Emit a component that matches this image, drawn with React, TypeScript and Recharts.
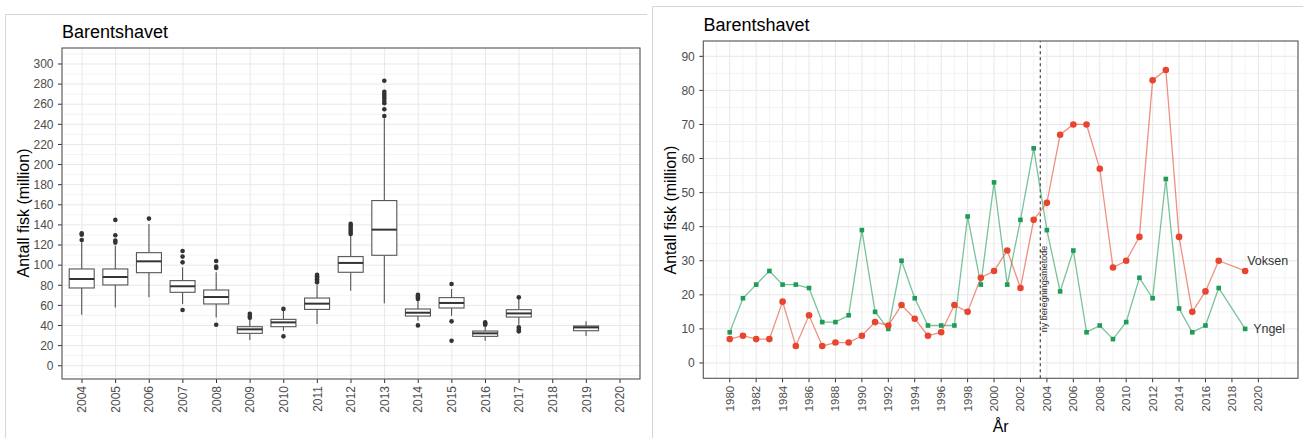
import React from "react";
import {
  ComposedChart, Bar, LineChart, Line, XAxis, YAxis, CartesianGrid, ReferenceLine, LabelList,
} from "recharts";

// left panel: boxplots per year
const boxYears = ["2004", "2005", "2006", "2007", "2008", "2009", "2010", "2011", "2012", "2013", "2014", "2015", "2016", "2017", "2018", "2019", "2020"];
const whiskerLow = [50.7, 58, 68, 61.4, 48, 25.5, 34.8, 41.5, 74.6, 62, 44.8, 49.8, 24.9, 40.8, null, 29.5, null];
const quart1 = [77.3, 80.3, 92.5, 73, 61.4, 32.2, 38.8, 56, 92.9, 109.8, 49.4, 57.4, 29.2, 48.4, null, 34.8, null];
const medians = [86.2, 88.2, 103.8, 79, 68.3, 36.2, 43.1, 61.7, 102.2, 135.3, 52.7, 62.4, 32.2, 52, null, 38.1, null];
const quart3 = [96.2, 96.2, 112.4, 84.6, 75.3, 38.8, 46.1, 67.3, 108.5, 164.2, 56.4, 67.7, 34.5, 55.7, null, 39.5, null];
const whiskerHigh = [122.7, 119.4, 141, 97.8, 92.9, 46.5, 55, 80, 129.4, 246, 64.7, 76.3, 38.8, 66, null, 44.1, null];
const outliers = [
  [125, 130.3, 131.7],
  [122.4, 124.4, 129.7, 145],
  [146.3],
  [55.4, 102.8, 108.5, 114],
  [40.8, 97.2, 98.5, 104.1],
  [47.8, 49.5, 51.7],
  [29.2, 56.5],
  [82.9, 84.5, 86, 87.5, 89, 90.5],
  [131, 133, 135, 137, 139, 141],
  [248.3, 255, 260.9, 263.2, 265.9, 268.2, 270.2, 272.4, 283.4],
  [40.1, 66.3, 68, 69.3, 70.6],
  [24.9, 44.1, 81.3],
  [40.8, 42, 43.1],
  [34.2, 36, 38.1, 68],
  [],
  [],
  [],
];
const leftYTicks = [0, 20, 40, 60, 80, 100, 120, 140, 160, 180, 200, 220, 240, 260, 280, 300];
const leftYMinor = [-10, 10, 30, 50, 70, 90, 110, 130, 150, 170, 190, 210, 230, 250, 270, 290, 310];

// right panel: time series
const years = [1980, 1981, 1982, 1983, 1984, 1985, 1986, 1987, 1988, 1989, 1990, 1991, 1992, 1993, 1994, 1995, 1996, 1997, 1998, 1999, 2000, 2001, 2002, 2003, 2004, 2005, 2006, 2007, 2008, 2009, 2010, 2011, 2012, 2013, 2014, 2015, 2016, 2017, 2018, 2019];
const voksen = [7, 8, 7, 7, 18, 5, 14, 5, 6, 6, 8, 12, 11, 17, 13, 8, 9, 17, 15, 25, 27, 33, 22, 42, 47, 67, 70, 70, 57, 28, 30, 37, 83, 86, 37, 15, 21, 30, null, 27];
const yngel = [9, 19, 23, 27, 23, 23, 22, 12, 12, 14, 39, 15, 10, 30, 19, 11, 11, 11, 43, 23, 53, 23, 42, 63, 39, 21, 33, 9, 11, 7, 12, 25, 19, 54, 16, 9, 11, 22, null, 10];
const rightXTicks = [1980, 1982, 1984, 1986, 1988, 1990, 1992, 1994, 1996, 1998, 2000, 2002, 2004, 2006, 2008, 2010, 2012, 2014, 2016, 2018, 2020];
const rightXMinor = [1978, 1979, 1981, 1983, 1985, 1987, 1989, 1991, 1993, 1995, 1997, 1999, 2001, 2003, 2005, 2007, 2009, 2011, 2013, 2015, 2017, 2019, 2021, 2022];
const rightYTicks = [0, 10, 20, 30, 40, 50, 60, 70, 80, 90];
const rightYMinor = [5, 15, 25, 35, 45, 55, 65, 75, 85];

const FONT = "'Liberation Sans', Arial, sans-serif";
const RED = "#e8452f";
const GREEN = "#1e9b57";

const boxData = boxYears.map((year, i) => ({
  year,
  range: whiskerLow[i] == null ? null : [whiskerLow[i], whiskerHigh[i]],
  lo: whiskerLow[i], q1: quart1[i], med: medians[i], q3: quart3[i], hi: whiskerHigh[i], out: outliers[i],
}));

const lineData = years.map((year, i) => ({ year, voksen: voksen[i], yngel: yngel[i] }));

function BoxShape(props: any) {
  const { x, y, width, height, payload } = props;
  if (!payload || payload.lo == null) return <g />;
  const top = Math.min(y, y + height);
  const h = Math.abs(height);
  const py = (v: number) => top + ((payload.hi - v) * h) / (payload.hi - payload.lo);
  const cx = x + width / 2;
  const line = "#555";
  return (
    <g>
      <line x1={cx} x2={cx} y1={py(payload.hi)} y2={py(payload.q3)} stroke={line} strokeWidth={1.1} />
      <line x1={cx} x2={cx} y1={py(payload.q1)} y2={py(payload.lo)} stroke={line} strokeWidth={1.1} />
      <rect x={x} y={py(payload.q3)} width={width} height={py(payload.q1) - py(payload.q3)} fill="#fff" stroke={line} strokeWidth={1.1} />
      <line x1={x} x2={x + width} y1={py(payload.med)} y2={py(payload.med)} stroke="#333" strokeWidth={2} />
      {payload.out.map((v: number, k: number) => (
        <circle key={k} cx={cx} cy={py(v)} r={2.3} fill="#333" />
      ))}
    </g>
  );
}

function RotTick(props: any) {
  const { x, y, payload, fontSize = 12 } = props;
  return (
    <text x={x} y={y} transform={`rotate(-90 ${x} ${y})`} textAnchor="end" dy="0.35em"
      fontSize={fontSize} fill="#4d4d4d" fontFamily={FONT}>
      {payload.value}
    </text>
  );
}

function NoteLabel(props: any) {
  const vb = props.viewBox || {};
  const tx = vb.x + 4;
  const ty = vb.y + vb.height - 46;
  return (
    <text x={tx} y={ty} transform={`rotate(-90 ${tx} ${ty})`} textAnchor="start" dy="0.35em"
      fontSize={9} fill="#333" fontFamily={FONT}>
      ny beregningsmetode
    </text>
  );
}

const endLabel = (text: string, dx: number, dy: number) => (p: any) => {
  if (p.index !== years.length - 1) return null;
  return (
    <text x={p.x + dx} y={p.y + dy} dy="0.35em" fontSize={12.5} fill="#333" fontFamily={FONT}>
      {text}
    </text>
  );
};

const redDot = (p: any) =>
  p.cx == null || p.value == null ? <g key={p.index} /> : <circle key={p.index} cx={p.cx} cy={p.cy} r={3.3} fill={RED} />;
const greenDot = (p: any) =>
  p.cx == null || p.value == null ? <g key={p.index} /> : <rect key={p.index} x={p.cx - 2.3} y={p.cy - 2.3} width={4.6} height={4.6} fill={GREEN} />;

const tickStyle = { fontSize: 12, fill: "#4d4d4d", fontFamily: FONT };

export default function App() {
  return (
    <div style={{ position: "absolute", left: 0, top: 0, width: 1303, height: 438, background: "#fff", fontFamily: FONT, overflow: "hidden" }}>
      <div style={{ position: "absolute", left: 0, top: 0 }}>
        <ComposedChart width={645} height={438} data={boxData} margin={{ top: 48, right: 5, left: 0, bottom: 0 }}>
          <CartesianGrid horizontalValues={leftYMinor} vertical={false} stroke="#f3f3f3" />
          <CartesianGrid stroke="#e8e8e8" />
          <XAxis dataKey="year" type="category" height={59} padding={{ left: 3.2, right: 3.2 }} interval={0}
            axisLine={false} tickSize={4} tickMargin={3} tickLine={{ stroke: "#333" }} tick={<RotTick />} />
          <YAxis type="number" width={62} domain={[-13.2, 315.9]} allowDataOverflow ticks={leftYTicks} interval={0}
            axisLine={false} tickSize={4} tickMargin={4.5} tickLine={{ stroke: "#333" }} tick={tickStyle} />
          <Bar dataKey="range" barSize={25} shape={<BoxShape />} isAnimationActive={false} />
        </ComposedChart>
      </div>
      <div style={{ position: "absolute", left: 652, top: 0 }}>
        <LineChart width={651} height={438} data={lineData} margin={{ top: 41, right: 5, left: 0, bottom: 0 }}>
          <CartesianGrid horizontalValues={rightYMinor} verticalValues={rightXMinor} stroke="#f3f3f3" />
          <CartesianGrid stroke="#e8e8e8" />
          <XAxis dataKey="year" type="number" domain={[1978, 2023]} allowDataOverflow ticks={rightXTicks} interval={0}
            height={59.7} axisLine={false} tickSize={4} tickMargin={3.5} tickLine={{ stroke: "#333" }}
            tick={<RotTick fontSize={11.5} />} />
          <YAxis type="number" width={51.3} domain={[-4.5, 94.5]} allowDataOverflow ticks={rightYTicks} interval={0}
            axisLine={false} tickSize={4} tickMargin={4.5} tickLine={{ stroke: "#333" }} tick={tickStyle} />
          <ReferenceLine x={2003.5} stroke="#444" strokeDasharray="3 3" strokeWidth={1.2} label={<NoteLabel />} />
          <Line dataKey="yngel" stroke={GREEN} strokeOpacity={0.6} strokeWidth={1.3} connectNulls
            dot={greenDot} isAnimationActive={false}>
            <LabelList dataKey="yngel" content={endLabel("Yngel", 8, 0)} />
          </Line>
          <Line dataKey="voksen" stroke={RED} strokeOpacity={0.6} strokeWidth={1.3} connectNulls
            dot={redDot} isAnimationActive={false}>
            <LabelList dataKey="voksen" content={endLabel("Voksen", 2, -10)} />
          </Line>
        </LineChart>
      </div>
      <svg width={1303} height={438} style={{ position: "absolute", left: 0, top: 0, pointerEvents: "none" }} fontFamily={FONT}>
        <path d="M5.5 438 V14.5 H647" fill="none" stroke="#d6d6d6" />
        <path d="M652.5 438 V6.5 H1303" fill="none" stroke="#d6d6d6" />
        <rect x={62} y={48} width={578} height={331} fill="none" stroke="#5a5a5a" strokeWidth={1.1} />
        <rect x={703.3} y={41} width={594.7} height={337.3} fill="none" stroke="#5a5a5a" strokeWidth={1.1} />
        <text x={62} y={38} fontSize={18} fill="#000">Barentshavet</text>
        <text x={703.5} y={30.5} fontSize={18} fill="#000">Barentshavet</text>
        <text x={28.5} y={213} transform="rotate(-90 28.5 213)" textAnchor="middle" fontSize={16} fill="#000">Antall fisk (million)</text>
        <text x={675.5} y={210} transform="rotate(-90 675.5 210)" textAnchor="middle" fontSize={16} fill="#000">Antall fisk (million)</text>
        <text x={1000.7} y={431.5} textAnchor="middle" fontSize={16} fill="#000">År</text>
      </svg>
    </div>
  );
}
